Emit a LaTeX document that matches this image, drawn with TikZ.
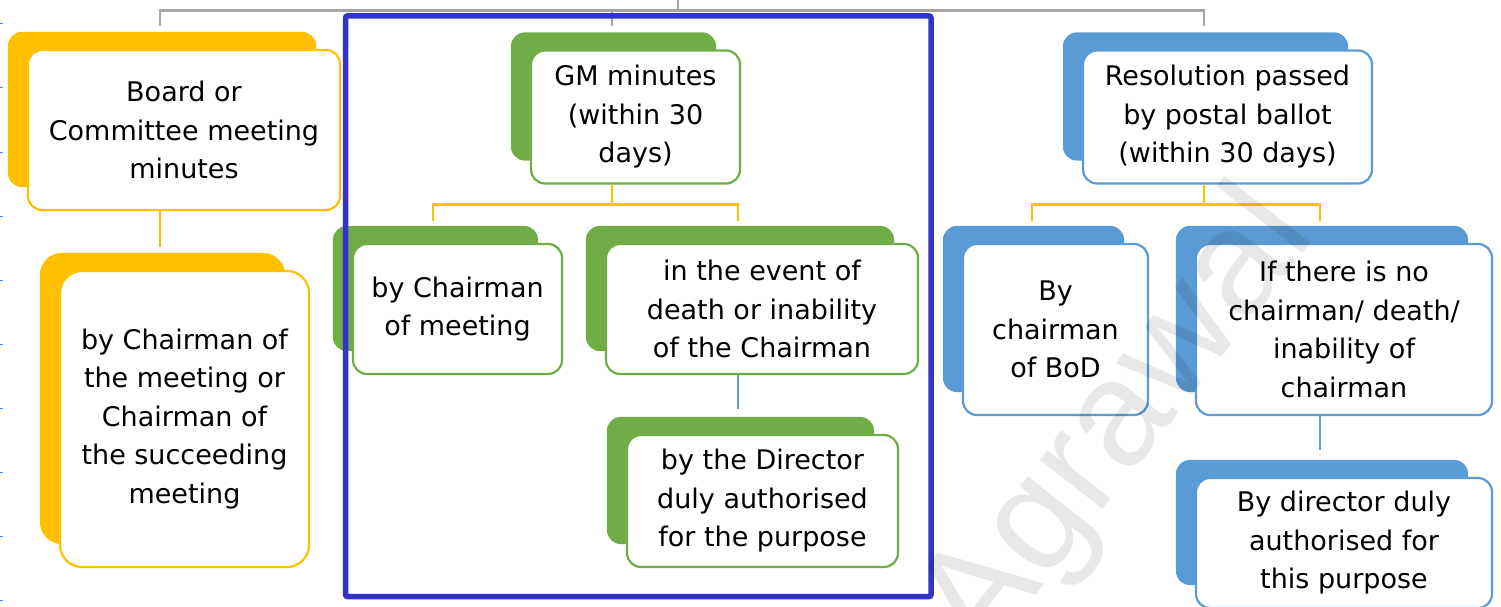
\documentclass[tikz,border=0pt]{standalone}
\usepackage{fontspec}
\setmainfont{DejaVu Sans}
\newfontfamily\wmfont{Liberation Sans}
\usetikzlibrary{calc,backgrounds}

\definecolor{cyellow}{HTML}{FFC000}
\definecolor{cgreen}{HTML}{70AD47}
\definecolor{cblue}{HTML}{5B9BD5}
\definecolor{cgray}{HTML}{A6A6A6}
\definecolor{cframe}{HTML}{3333CC}
\definecolor{ctick}{HTML}{3C8CE6}

\tikzset{
  card/.style={draw=#1, fill=white, line width=2.2pt, rounded corners=14pt,
    align=center, inner sep=0pt, font=\fontsize{27}{38.5}\selectfont},
  trunk/.style={draw=cgray, line width=2.7pt},
  ylink/.style={draw=cyellow, line width=2.5pt},
  blink/.style={draw=cblue, line width=2.5pt},
  frameline/.style={draw=cframe, line width=5.5pt, rounded corners=2pt},
  tick/.style={draw=ctick, line width=1pt},
  watermark/.style={text=black, opacity=0.09, font=\wmfont\fontsize{150}{150}\selectfont},
}

% solid coloured card lying behind and up-left of a front card
\newcommand\cardback[3][14pt]{%
  \begin{scope}[on background layer]
    \fill[#3, rounded corners=#1]
      ($(#2.north west)+(-19,-17)$) rectangle ($(#2.south east)+(-25,-24)$);
  \end{scope}}

\begin{document}
\begin{tikzpicture}[x=1pt, y=-1pt]
\useasboundingbox (0,0) rectangle (1501,607);

% ruler ticks on the left edge
\foreach \t in {24,88,...,600} \draw[tick] (0,\t) -- (3,\t);

% front cards
\node[card=cyellow, minimum width=312pt, minimum height=160pt] (board) at (184,130)
  {Board or\\Committee meeting\\minutes};
\node[card=cyellow, rounded corners=22pt, minimum width=249pt, minimum height=296pt] (boardc) at (184.5,419)
  {by Chairman of\\the meeting or\\Chairman of\\the succeeding\\meeting};

\node[card=cgreen, minimum width=209pt, minimum height=133pt] (gm) at (635.5,117)
  {GM minutes\\(within 30\\days)};
\node[card=cgreen, minimum width=209pt, minimum height=130pt] (gmc1) at (457.5,309)
  {by Chairman\\of meeting};
\node[card=cgreen, minimum width=312pt, minimum height=130pt] (gmc2) at (762,309)
  {in the event of\\death or inability\\of the Chairman};
\node[card=cgreen, minimum width=271pt, minimum height=132pt] (gmc3) at (762.5,501)
  {by the Director\\duly authorised\\for the purpose};

\node[card=cblue, minimum width=289pt, minimum height=133pt] (res) at (1227.5,117)
  {Resolution passed\\by postal ballot\\(within 30 days)};
\node[card=cblue, minimum width=185pt, minimum height=171pt] (resc1) at (1055.5,329.5)
  {By\\chairman\\of BoD};
\node[card=cblue, minimum width=296pt, minimum height=171pt] (resc2) at (1344,329.5)
  {If there is no\\chairman/ death/\\inability of\\chairman};
\node[card=cblue, minimum width=296pt, minimum height=130pt] (resc3) at (1344,543)
  {By director duly\\authorised for\\this purpose};

% coloured backs
\cardback{board}{cyellow}
\cardback[22pt]{boardc}{cyellow}
\cardback{gm}{cgreen}
\cardback{gmc1}{cgreen}
\cardback{gmc2}{cgreen}
\cardback{gmc3}{cgreen}
\cardback{res}{cblue}
\cardback{resc1}{cblue}
\cardback{resc2}{cblue}
\cardback{resc3}{cblue}

% branch positions
\coordinate (root) at (678,0);
\coordinate (bx) at (160,0);
\coordinate (gx) at (612,0);
\coordinate (rx) at (1204,0);
\coordinate (xa) at (433,0);
\coordinate (xb) at (738,0);
\coordinate (xc) at (1032,0);
\coordinate (xd) at (1320,0);

% top level
\draw[trunk] (root) -- ++(0,10.5) coordinate (hub);
\draw[trunk] ($(board.north -| bx)+(0,-23)$) |- (hub) -| ($(res.north -| rx)+(0,-23)$);
\draw[trunk] ($(gm.north -| gx)+(0,-23)$) |- (hub);

% board branch
\draw[ylink] (board.south -| bx) -- ($(boardc.north -| bx)+(0,-23)$);

% general meeting branch
\draw[ylink] (gm.south -| gx) -- ++(0,20) coordinate (gbus);
\draw[ylink] ($(gmc1.north -| xa)+(0,-22)$) |- (gbus) -| ($(gmc2.north -| xb)+(0,-22)$);
\draw[blink] (gmc2.south -| xb) -- ($(gmc3.north -| xb)+(0,-25)$);

% postal ballot branch
\draw[ylink] (res.south -| rx) -- ++(0,20) coordinate (rbus);
\draw[ylink] ($(resc1.north -| xc)+(0,-22)$) |- (rbus) -| ($(resc2.north -| xd)+(0,-22)$);
\draw[blink] (resc2.south -| xd) -- ($(resc3.north -| xd)+(0,-27)$);

% highlight frame round the general meeting branch
\draw[frameline] (345.5,16) rectangle (931,596.5);

% watermark
\node[watermark, rotate=52] (wm) at (1120,425) {Agrawal};
\end{tikzpicture}
\end{document}
